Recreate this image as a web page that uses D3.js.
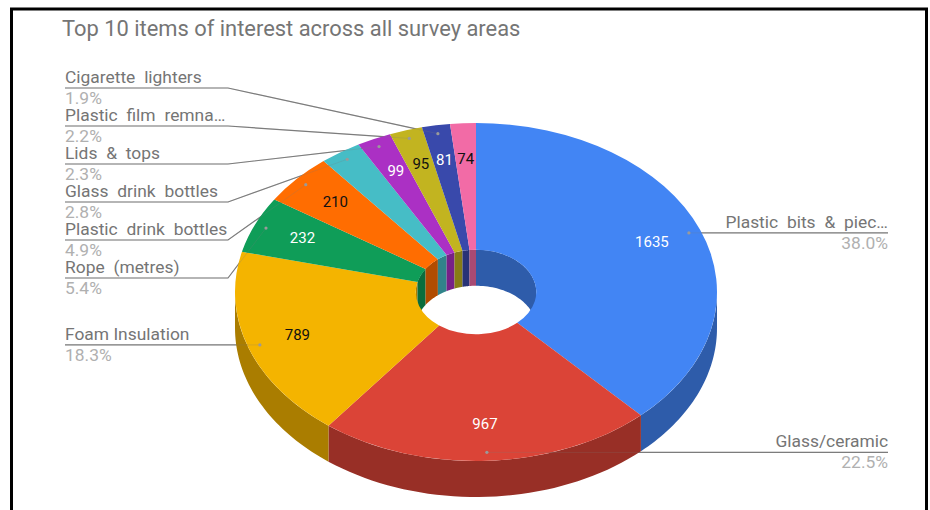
<!DOCTYPE html>
<html>
<head>
<meta charset="utf-8">
<style>
  html, body { margin: 0; padding: 0; background: #fff; }
  svg { display: block; }
  text { font-family: Roboto, sans-serif; }
</style>
</head>
<body>
<svg id="chart" width="930" height="510"></svg>
<script src="https://cdn.jsdelivr.net/npm/d3@7/dist/d3.min.js"></script>
<script>
const chartTitle = "Top 10 items of interest across all survey areas";
const categories = ["Plastic bits & piec…", "Glass/ceramic", "Foam Insulation", "Rope (metres)",
  "Plastic drink bottles", "Glass drink bottles", "Lids & tops", "Plastic film remna…",
  "Cigarette lighters", "Fishing line"];
const values = [1635, 967, 789, 232, 210, 120, 99, 95, 81, 74];
const faceColors = ["#4285f4", "#db4437", "#f4b400", "#0f9d58", "#ff6d01", "#46bdc6", "#ab30c4", "#c2b420", "#3949ab", "#f26ba6"];
const valueInk = ["#fff", "#fff", "#111", "#fff", "#111", "none", "#fff", "#111", "#fff", "#111"];
// Slices whose callout sits in the stacked left column, top to bottom.
const stackedCallouts = ["Cigarette lighters", "Plastic film remna…", "Lids & tops",
  "Glass drink bottles", "Plastic drink bottles", "Rope (metres)"];
const directLeft = ["Foam Insulation"];
const directRight = ["Plastic bits & piec…", "Glass/ceramic"];

const cx = 476, cy = 292, rx = 241, ry = 169, holeRatio = 0.25, depth = 36;
const squash = ry / rx;
const svg = d3.select("#chart");

const total = d3.sum(values);
const slices = d3.pie().sort(null).value(d => d)(values)
  .map((s, i) => ({ ...s, i, name: categories[i], mid: (s.startAngle + s.endAngle) / 2 }));

const px = (a, r) => cx + rx * r * Math.sin(a);
const py = (a, r) => cy - ry * r * Math.cos(a);
const shade = c => d3.rgb(c).darker(1.02).formatHex();
const line = d3.line();

// Side wall between an upper rim and the same rim pushed down by the depth.
function wall(a0, a1, r) {
  const steps = d3.range(0, 41).map(k => a0 + (a1 - a0) * k / 40);
  const top = steps.map(a => [px(a, r), py(a, r)]);
  const bottom = steps.slice().reverse().map(a => [px(a, r), py(a, r) + depth]);
  return line(top.concat(bottom)) + "Z";
}

// Leader lines: full strength over the page, faint where they cross the pie.
function leaderPoints(s) {
  const dot = [px(s.mid, 0.95), py(s.mid, 0.95)];
  const row = stackedCallouts.indexOf(s.name);
  if (row >= 0) { const y = 88 + 38 * row; return [[65, y], [228, y], dot]; }
  if (directLeft.includes(s.name)) return [[65, dot[1]], dot];
  if (directRight.includes(s.name)) return [[888, dot[1]], dot];
  return null;
}
const called = slices.filter(s => leaderPoints(s));

svg.append("rect").attr("x", 11.5).attr("y", 9).attr("width", 915).attr("height", 620)
  .attr("fill", "#fff").attr("stroke", "#000").attr("stroke-width", 3);

svg.append("text").attr("x", 62).attr("y", 36).attr("font-size", 21.9).attr("fill", "#757575")
  .text(chartTitle);

svg.append("g").selectAll("path").data(called).join("path")
  .attr("d", s => line(leaderPoints(s))).attr("fill", "none").attr("stroke", "#7d7d7d").attr("stroke-width", 1.2);

// Inner wall of the hole, back half only.
const QUARTER = Math.PI / 2;
const inner = svg.append("g");
slices.forEach(s => {
  [[s.startAngle, Math.min(s.endAngle, QUARTER)],
   [Math.max(s.startAngle, 3 * QUARTER), s.endAngle]].forEach(([a0, a1]) => {
    if (a1 > a0) inner.append("path").attr("d", wall(a0, a1, holeRatio)).attr("fill", shade(faceColors[s.i]));
  });
});

// Outer wall, front half only.
const outer = svg.append("g");
slices.forEach(s => {
  const a0 = Math.max(s.startAngle, QUARTER), a1 = Math.min(s.endAngle, 3 * QUARTER);
  if (a1 > a0) outer.append("path").attr("d", wall(a0, a1, 1)).attr("fill", shade(faceColors[s.i]));
});

// Top face: a flat ring squashed into perspective.
const arc = d3.arc().innerRadius(rx * holeRatio).outerRadius(rx);
svg.append("g").attr("transform", `translate(${cx},${cy}) scale(1,${squash})`)
  .selectAll("path").data(slices).join("path")
  .attr("d", arc).attr("fill", s => faceColors[s.i]);

svg.append("g").selectAll("path").data(called).join("path")
  .attr("d", s => line(leaderPoints(s))).attr("fill", "none")
  .attr("stroke", "#7d7d7d").attr("stroke-width", 1).attr("stroke-opacity", 0.22);

svg.append("g").selectAll("circle").data(called).join("circle")
  .attr("cx", s => px(s.mid, 0.95)).attr("cy", s => py(s.mid, 0.95)).attr("r", 1.6)
  .attr("fill", "#9a9a9a");

// Counts printed on the slices.
svg.append("g").selectAll("text").data(slices.filter(s => valueInk[s.i] !== "none")).join("text")
  .attr("x", s => px(s.mid, 0.785)).attr("y", s => py(s.mid, 0.785) + 4)
  .attr("text-anchor", "middle").attr("font-size", 15).attr("fill", s => valueInk[s.i])
  .text(s => s.value);

// Callout text: the name above the rule, its share beneath.
const pct = d3.format(".1%");
called.forEach(s => {
  const pts = leaderPoints(s);
  const y = pts[0][1];
  const right = directRight.includes(s.name);
  const x = right ? 888 : 65;
  const anchor = right ? "end" : "start";
  svg.append("text").attr("x", x).attr("y", y - 5).attr("text-anchor", anchor)
    .attr("font-size", 17.4).attr("fill", "#757575")
    .attr("word-spacing", directLeft.includes(s.name) ? 0 : 4.5).text(s.name);
  svg.append("text").attr("x", x).attr("y", y + 16).attr("text-anchor", anchor)
    .attr("font-size", 17.4).attr("fill", "#b0b0b0").text(pct(s.value / total));
});
</script>
</body>
</html>
